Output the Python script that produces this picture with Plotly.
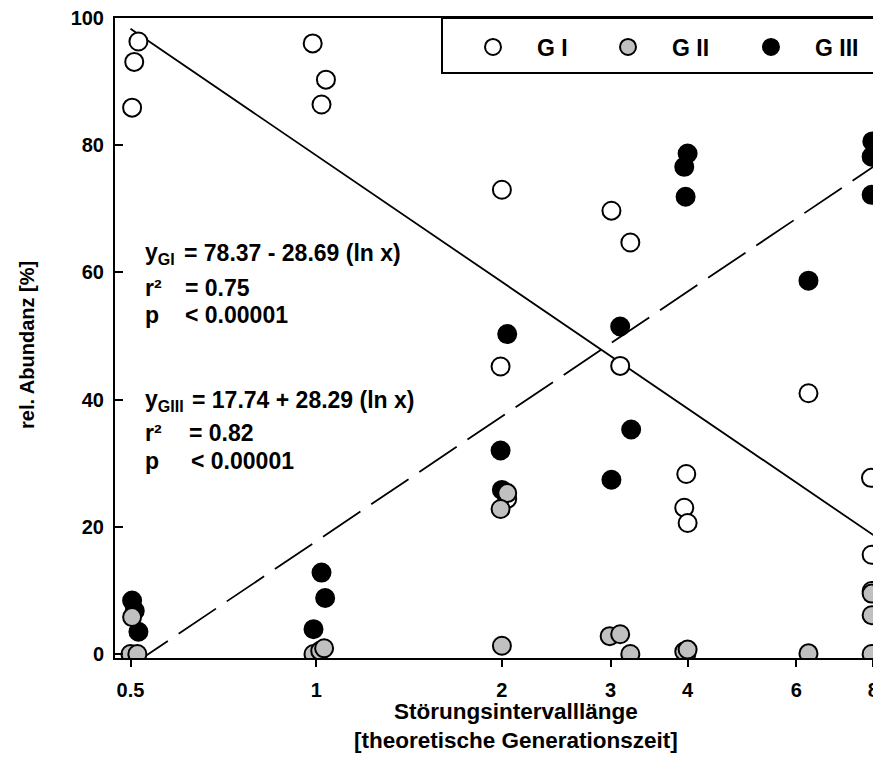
import plotly.graph_objects as go

# ---------------- data ----------------
gI_x = [0.515, 0.507, 0.503, 0.987, 1.037, 1.02, 2.0, 1.99, 2.04, 3.01, 3.23, 3.11,
        3.98, 3.95, 4.0, 6.28, 7.93, 7.95, 7.95]
gI_y = [96.3, 93.1, 85.9, 96.0, 90.3, 86.4, 73.0, 45.2, 24.4, 69.7, 64.7, 45.3,
        28.3, 23.0, 20.6, 41.0, 27.7, 15.6, 9.9]

gIII_x = [0.503, 0.508, 0.515, 1.02, 1.034, 0.99, 2.04, 1.99, 2.0, 3.11, 3.24, 3.01,
          4.0, 3.95, 3.97, 6.28, 7.97, 7.95, 7.95]
gIII_y = [8.4, 6.8, 3.5, 12.8, 8.8, 3.9, 50.3, 32.0, 25.8, 51.5, 35.3, 27.4,
          78.7, 76.6, 71.9, 58.7, 80.6, 78.2, 72.2]

gII_x = [0.503, 0.5, 0.513, 0.99, 1.015, 1.03, 2.04, 1.99, 2.0, 2.99, 3.11, 3.23,
         3.98, 3.95, 4.0, 6.28, 7.95, 7.95, 7.95]
gII_y = [5.8, 0.0, 0.0, 0.0, 0.5, 0.9, 25.3, 22.8, 1.3, 2.8, 3.1, 0.0,
         0.0, 0.4, 0.7, 0.1, 9.5, 6.1, 0.0]

# regression lines (end points, as drawn)
fit_x = [0.5, 8.0]
fitI_y = [98.3, 18.7]
fitIII_y = [-1.9, 76.6]

x_tickvals = [0.5, 1, 2, 3, 4, 6, 8]
x_ticktext = ["0.5", "1", "2", "3", "4", "6", "8"]
y_tickvals = [0, 20, 40, 60, 80, 100]

legend_names = ["G I", "G II", "G III"]

# ---------------- figure ----------------
OFF = 8  # page body margin
W, H = 881, 764
ML, MT = 115 - OFF, 18 - OFF
MR = OFF
MB = H - (658 - OFF)
PW, PH = W - ML - MR, H - MT - MB


def px(xp):
    return (xp - OFF - ML) / PW


def py(yp):
    return (H - MB - (yp - OFF)) / PH


FONT = "Liberation Sans, Arial, sans-serif"
MS = 18

fig = go.Figure()

fig.add_trace(go.Scatter(x=fit_x, y=fitI_y, mode="lines", showlegend=False,
                         line=dict(color="black", width=1.8), hoverinfo="skip"))
fig.add_trace(go.Scatter(x=fit_x, y=fitIII_y, mode="lines", showlegend=False,
                         line=dict(color="black", width=1.8, dash="45px,13px"),
                         hoverinfo="skip"))

fig.add_trace(go.Scatter(x=gI_x, y=gI_y, mode="markers", name=legend_names[0],
                         legend="legend",
                         marker=dict(size=MS, color="white",
                                     line=dict(color="black", width=2))))
fig.add_trace(go.Scatter(x=gIII_x, y=gIII_y, mode="markers", name=legend_names[2],
                         legend="legend3",
                         marker=dict(size=MS, color="black",
                                     line=dict(color="black", width=2))))
fig.add_trace(go.Scatter(x=gII_x, y=gII_y, mode="markers", name=legend_names[1],
                         legend="legend2",
                         marker=dict(size=MS, color="#c0c0c0",
                                     line=dict(color="black", width=2))))

ann_font = dict(family=FONT, size=23, color="black", weight="bold")
annotations = []
left_col = [("y<sub>GI</sub>", 253), ("r²", 288), ("p", 315),
            ("y<sub>GIII</sub>", 400), ("r²", 433), ("p", 461)]
right_col = [("= 78.37 - 28.69 (ln x)", 182, 253), ("= 0.75", 183, 288),
             ("< 0.00001", 183, 315),
             ("= 17.74 + 28.29 (ln x)", 190, 400), ("= 0.82", 187, 433),
             ("< 0.00001", 189, 461)]
for t, yy in left_col:
    annotations.append(dict(text=t, x=px(143), y=py(yy), xref="paper", yref="paper",
                            xanchor="left", yanchor="middle", showarrow=False,
                            font=ann_font))
for t, xx, yy in right_col:
    annotations.append(dict(text=t, x=px(xx), y=py(yy), xref="paper", yref="paper",
                            xanchor="left", yanchor="middle", showarrow=False,
                            font=ann_font))

annotations.append(dict(text="Störungsintervalllänge<br>[theoretische Generationszeit]",
                        x=px(516), y=py(726), xref="paper", yref="paper",
                        xanchor="center", yanchor="middle", showarrow=False,
                        font=dict(family=FONT, size=22.5, color="black", weight="bold")))
annotations.append(dict(text="rel. Abundanz [%]", textangle=-90,
                        x=px(27), y=py(345), xref="paper", yref="paper",
                        xanchor="center", yanchor="middle", showarrow=False,
                        font=dict(family=FONT, size=20, color="black", weight="bold")))

shapes = [dict(type="rect", xref="paper", yref="paper",
               x0=px(442), x1=px(920), y0=py(73), y1=py(18),
               line=dict(color="black", width=2), fillcolor="white", layer="below")]

leg_font = dict(family=FONT, size=23, color="black", weight="bold")


def leg(xpage):
    return dict(orientation="h", x=px(xpage - 44), y=py(47), xanchor="left",
                yanchor="middle", bgcolor="rgba(0,0,0,0)", borderwidth=0,
                itemwidth=78, font=leg_font)


fig.update_layout(
    width=W, height=H,
    margin=dict(l=ML, r=MR, t=MT, b=MB, pad=0, autoexpand=False),
    paper_bgcolor="white", plot_bgcolor="white",
    font=dict(family=FONT, color="black"),
    showlegend=True,
    legend=leg(493), legend2=leg(628), legend3=leg(771),
    annotations=annotations,
    shapes=shapes,
    xaxis=dict(type="log", range=[-0.32616, 0.91554], tickvals=x_tickvals,
               ticktext=x_ticktext, ticks="outside", ticklen=7, tickwidth=2,
               tickcolor="black", showline=True, linecolor="black", linewidth=2,
               mirror=True, showgrid=False, zeroline=False, ticklabelstandoff=6,
               ticklabeloverflow="allow",
               tickfont=dict(family=FONT, size=20, color="black", weight="bold")),
    yaxis=dict(range=[-0.63, 100], tickvals=y_tickvals, ticks="inside", ticklen=8,
               tickwidth=2, tickcolor="black", showline=True, linecolor="black",
               linewidth=2, showgrid=False, zeroline=False, ticklabelstandoff=5,
               ticklabeloverflow="allow",
               tickfont=dict(family=FONT, size=20, color="black", weight="bold")),
)

fig.write_html("out.html")
